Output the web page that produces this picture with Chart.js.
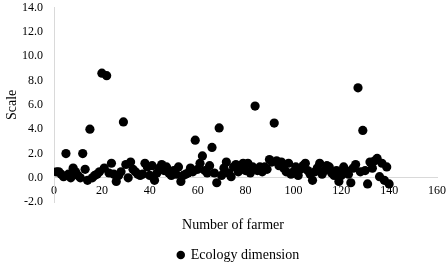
<!DOCTYPE html>
<html>
<head>
<meta charset="utf-8">
<script src="https://cdn.jsdelivr.net/npm/chart.js@4.4.0/dist/chart.umd.min.js"></script>
<style>
  html, body { margin: 0; padding: 0; background: #ffffff; }
  #wrap { width: 447px; height: 265px; position: relative; }
</style>
</head>
<body>
<div id="wrap"><canvas id="c"></canvas></div>
<script>
// Farmer numbers (1..140) and their ecology dimension scale values
const farmers = [
  1,2,3,4,5,6,7,8,9,10,11,12,13,14,15,16,17,18,19,20,
  21,22,23,24,25,26,27,28,29,30,31,32,33,34,35,36,37,38,39,40,
  41,42,43,44,45,46,47,48,49,50,51,52,53,54,55,56,57,58,59,60,
  61,62,63,64,65,66,67,68,69,70,71,72,73,74,75,76,77,78,79,80,
  81,82,83,84,85,86,87,88,89,90,91,92,93,94,95,96,97,98,99,100,
  101,102,103,104,105,106,107,108,109,110,111,112,113,114,115,116,117,118,119,120,
  121,122,123,124,125,126,127,128,129,130,131,132,133,134,135,136,137,138,139,140
];
const ecologyValues = [
  0.5,0.5,0.3,0.1,2.0,0.3,0.0,0.8,0.5,0.2,0.0,2.0,0.7,-0.2,4.0,0.0,0.2,0.3,0.5,8.6,
  0.8,8.4,0.4,1.2,0.3,-0.3,0.2,0.5,4.6,1.1,0.0,1.3,0.7,0.5,0.3,0.2,0.3,1.2,0.9,0.2,
  1.0,-0.2,0.4,0.8,1.1,0.6,0.9,0.4,0.2,0.6,0.3,0.9,-0.3,0.2,0.3,0.4,0.8,0.5,3.1,0.7,
  1.2,1.8,0.6,0.4,1.0,2.5,0.4,-0.4,4.1,0.2,0.8,1.3,0.4,0.1,0.9,1.1,0.5,0.9,1.2,0.6,
  1.2,0.4,0.9,5.9,0.6,0.9,0.5,0.9,0.7,1.5,1.3,4.5,1.4,1.0,1.3,0.8,0.5,1.2,0.3,0.5,
  0.9,0.2,0.7,1.0,1.2,0.6,0.3,-0.2,0.5,0.8,1.2,0.3,0.6,1.0,0.9,0.4,0.2,0.6,-0.3,0.2,
  0.9,0.6,0.3,-0.4,0.8,1.1,7.4,0.5,3.9,0.6,-0.5,1.3,0.8,1.4,1.6,0.1,1.2,-0.2,0.9,-0.5
];
const seriesName = 'Ecology dimension';
const xTitle = 'Number of farmer';
const yTitle = 'Scale';

const points = farmers.map((f, i) => ({ x: f, y: ecologyValues[i] }));
const serif = "'Liberation Serif', 'Times New Roman', serif";

// Small nudges so the legend and x title sit where the original (Excel) placed them
const nudgePlugin = {
  id: 'nudge',
  afterLayout(chart) {
    const lg = chart.legend;
    if (lg) { lg.left += 14; lg.right += 14; lg.top += 7; lg.bottom += 7; }
    const x2 = chart.scales.x2;
    if (x2) { x2.right -= 25; x2.width = x2.right - x2.left; }
  }
};

new Chart(document.getElementById('c'), {
  type: 'scatter',
  data: {
    datasets: [{
      label: seriesName,
      data: points,
      xAxisID: 'x',
      yAxisID: 'y',
      backgroundColor: '#000000',
      borderColor: '#000000',
      pointRadius: 4.6,
      pointHoverRadius: 4.6,
      borderWidth: 0
    }]
  },
  options: {
    responsive: true,
    maintainAspectRatio: false,
    animation: false,
    layout: { padding: { left: 2, right: 0, top: 0, bottom: 0 } },
    plugins: {
      legend: {
        position: 'bottom',
        labels: {
          usePointStyle: true,
          pointStyle: 'circle',
          boxWidth: 6,
          boxHeight: 6,
          padding: 5,
          color: '#000000',
          font: { family: serif, size: 14 }
        }
      },
      tooltip: { enabled: false }
    },
    scales: {
      x: {
        type: 'linear',
        position: { y: 0 },
        min: 0,
        max: 160,
        ticks: {
          stepSize: 20,
          color: '#000000',
          padding: 6,
          font: { family: serif, size: 12 }
        },
        grid: { display: false, drawTicks: false },
        border: { display: true, color: '#d9d9d9', width: 1 },
        afterFit: (s) => { s.paddingRight = 10; s.paddingLeft = 0; }
      },
      x2: {
        type: 'linear',
        position: 'bottom',
        axis: 'x',
        min: 0,
        max: 160,
        ticks: { display: false },
        grid: { display: false, drawTicks: false },
        border: { display: false },
        title: {
          display: true,
          text: xTitle,
          color: '#000000',
          font: { family: serif, size: 14 },
          padding: { top: 15, bottom: 2 }
        },
        afterFit: (s) => { s.paddingRight = 10; s.paddingLeft = 0; }
      },
      y: {
        type: 'linear',
        position: 'left',
        min: -2,
        max: 14,
        ticks: {
          stepSize: 2,
          color: '#000000',
          padding: 11,
          font: { family: serif, size: 12 },
          callback: (v) => Number(v).toFixed(1)
        },
        grid: { display: false, drawTicks: false },
        border: { display: true, color: '#d9d9d9', width: 1 },
        title: {
          display: true,
          text: yTitle,
          color: '#000000',
          font: { family: serif, size: 14 },
          padding: { top: 2, bottom: 2 }
        },
        afterFit: (s) => { s.width = 52; s.paddingTop = 7.5; }
      }
    }
  },
  plugins: [nudgePlugin]
});
</script>
</body>
</html>
